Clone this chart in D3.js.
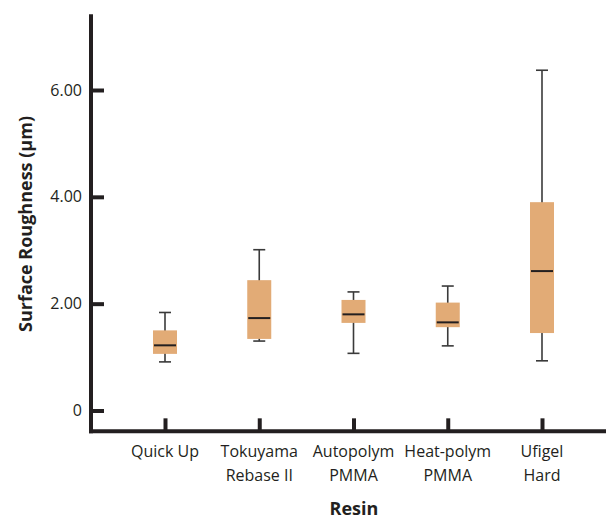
<!DOCTYPE html>
<html>
<head>
<meta charset="utf-8">
<script src="https://cdn.jsdelivr.net/npm/d3@7"></script>
<style>
  body { margin: 0; background: #fff; }
  text { font-family: "Open Sans", sans-serif; fill: #231f20; }
</style>
</head>
<body>
<svg width="606" height="519"></svg>
<script>
// data
const resins = ['Quick Up', 'Tokuyama\nRebase II', 'Autopolym\nPMMA', 'Heat-polym\nPMMA', 'Ufigel\nHard'];
const whiskerLow = [0.91, 1.30, 1.07, 1.21, 0.93];
const q1 = [1.06, 1.34, 1.64, 1.56, 1.45];
const median = [1.22, 1.73, 1.80, 1.65, 2.61];
const q3 = [1.50, 2.44, 2.07, 2.02, 3.90];
const whiskerHigh = [1.835, 3.01, 2.22, 2.33, 6.37];
const yTicks = [0, 2, 4, 6];

const svg = d3.select('svg');
const axisColor = '#231f20';
const boxColor = '#e2ab76';

const axisX = 91;
const y = d3.scaleLinear().domain([0, 6]).range([410.5, 90]);
const yBottom = y(-0.39);
const yTop = y(7.42);
const x = d3.scalePoint().domain(resins).range([165, 542]);

const boxes = resins.map((r, i) => ({
  name: r, lo: whiskerLow[i], q1: q1[i], med: median[i], q3: q3[i], hi: whiskerHigh[i]
}));

// axis lines
svg.append('line')
  .attr('x1', axisX).attr('x2', axisX)
  .attr('y1', yTop).attr('y2', yBottom + 2)
  .attr('stroke', axisColor).attr('stroke-width', 4);
svg.append('line')
  .attr('x1', axisX - 2).attr('x2', 606)
  .attr('y1', yBottom).attr('y2', yBottom)
  .attr('stroke', axisColor).attr('stroke-width', 4);

// y axis ticks and labels
const yAxis = svg.append('g')
  .attr('transform', `translate(${axisX},0)`)
  .call(d3.axisLeft(y).tickValues(yTicks)
    .tickFormat(d => d === 0 ? '0' : d3.format('.2f')(d))
    .tickSizeInner(-13).tickSizeOuter(0).tickPadding(9));
yAxis.select('.domain').remove();
yAxis.selectAll('.tick line').attr('stroke', axisColor).attr('stroke-width', 4);
yAxis.selectAll('.tick text')
  .attr('font-size', 16).attr('font-family', '"Open Sans", sans-serif').attr('fill', axisColor);

// x axis ticks and labels
const xAxis = svg.append('g')
  .attr('transform', `translate(0,${yBottom})`)
  .call(d3.axisBottom(x).tickSizeInner(-13).tickSizeOuter(0).tickFormat(''));
xAxis.select('.domain').remove();
xAxis.selectAll('.tick line').attr('stroke', axisColor).attr('stroke-width', 4);

const xLab = svg.append('g').selectAll('text')
  .data(resins).enter().append('text')
  .attr('x', d => x(d))
  .attr('y', 457)
  .attr('text-anchor', 'middle')
  .attr('font-size', 16);
xLab.each(function (d) {
  d.split('\n').forEach((line, k) => {
    d3.select(this).append('tspan')
      .attr('x', x(d)).attr('dy', k === 0 ? 0 : 24).text(line);
  });
});

// boxes
const bw = 24, cap = 12;
const g = svg.append('g');
const b = g.selectAll('.box').data(boxes).enter().append('g').attr('class', 'box');
b.append('line')
  .attr('x1', d => x(d.name)).attr('x2', d => x(d.name))
  .attr('y1', d => y(d.hi)).attr('y2', d => y(d.lo))
  .attr('stroke', '#3a3a3a').attr('stroke-width', 1.6);
b.append('line')
  .attr('x1', d => x(d.name) - cap / 2).attr('x2', d => x(d.name) + cap / 2)
  .attr('y1', d => y(d.hi)).attr('y2', d => y(d.hi))
  .attr('stroke', '#3a3a3a').attr('stroke-width', 1.6);
b.append('line')
  .attr('x1', d => x(d.name) - cap / 2).attr('x2', d => x(d.name) + cap / 2)
  .attr('y1', d => y(d.lo)).attr('y2', d => y(d.lo))
  .attr('stroke', '#3a3a3a').attr('stroke-width', 1.6);
b.append('rect')
  .attr('x', d => x(d.name) - bw / 2)
  .attr('width', bw)
  .attr('y', d => y(d.q3))
  .attr('height', d => y(d.q1) - y(d.q3))
  .attr('fill', boxColor);
b.append('line')
  .attr('x1', d => x(d.name) - bw / 2 + 1).attr('x2', d => x(d.name) + bw / 2 - 1)
  .attr('y1', d => y(d.med)).attr('y2', d => y(d.med))
  .attr('stroke', '#231f20').attr('stroke-width', 2);

// axis titles
svg.append('text')
  .attr('transform', `translate(32,224) rotate(-90)`)
  .attr('text-anchor', 'middle')
  .attr('font-size', 18).attr('font-weight', 'bold')
  .text('Surface Roughness (µm)');
svg.append('text')
  .attr('x', 354).attr('y', 515)
  .attr('text-anchor', 'middle')
  .attr('font-size', 18).attr('font-weight', 'bold')
  .text('Resin');
</script>
</body>
</html>
